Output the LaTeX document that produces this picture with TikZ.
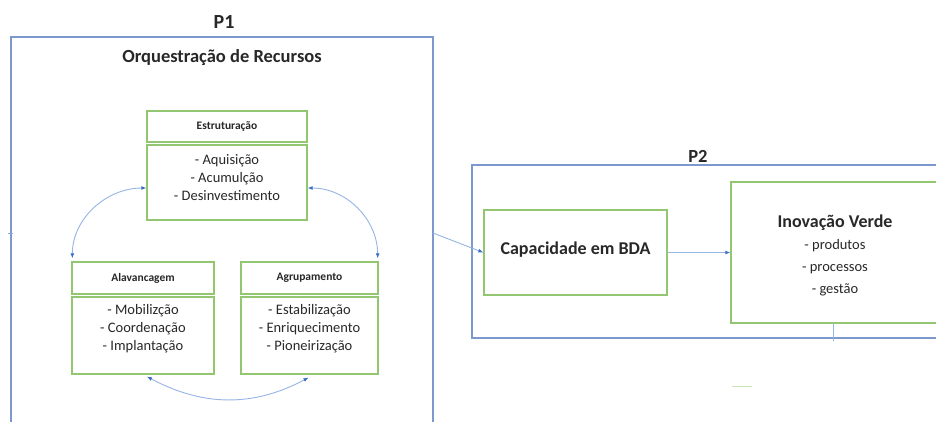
\documentclass[tikz,border=0pt]{standalone}
\usepackage{fontspec}
\setmainfont{Carlito}
\usetikzlibrary{arrows.meta}
\definecolor{pblue}{RGB}{125,152,205}
\definecolor{ggreen}{RGB}{146,198,112}
\definecolor{lineblue}{RGB}{150,180,230}
\definecolor{tipblue}{RGB}{60,110,200}
\definecolor{txt}{RGB}{40,40,40}
\tikzset{
  pframe/.style={draw=pblue, line width=1.3pt, rectangle, inner sep=0pt},
  gbox/.style={draw=ggreen, line width=1.3pt, rectangle, inner sep=0pt, fill=white},
  hdtext/.style={font=\bfseries\fontsize{11.5}{13}\selectfont, text=txt},
  bodytext/.style={font=\fontsize{14.5}{18}\selectfont, text=txt, align=center},
  conn/.style={draw=lineblue, line width=0.9pt, {Latex[length=5pt,width=4pt,color=tipblue]}-{Latex[length=5pt,width=4pt,color=tipblue]}},
  oneway/.style={draw=lineblue, line width=0.9pt, -{Latex[length=5pt,width=4pt,color=tipblue]}}
}
\begin{document}
\begin{tikzpicture}[x=1pt,y=-1pt]
\useasboundingbox (0,0) rectangle (936,421);
\clip (0,0) rectangle (936,421);
\fill[white] (0,0) rectangle (936,421);
% P1 frame
\node[pframe, minimum width=422pt, minimum height=422pt] (p1) at (222,248) {};
\node[font=\bfseries\fontsize{20}{24}\selectfont, text=txt] (p1t) at (224,22) {P1};
\node[font=\bfseries\fontsize{18.5}{21}\selectfont, text=txt] (orq) at (222,58) {Orquestração de Recursos};
% Estruturacao
\node[gbox, minimum width=160pt, minimum height=31pt] (esth) at (227,126.5) {};
\node[hdtext] (estt) at (esth.center) {Estruturação};
\node[gbox, minimum width=160pt, minimum height=75pt] (estb) at (227,182.5) {};
\node[bodytext] (estl) at (227,178) {- Aquisição\\- Acumulção\\- Desinvestimento};
% Alavancagem
\node[gbox, minimum width=142pt, minimum height=32pt] (alah) at (143,278) {};
\node[hdtext] (alat) at (alah.center) {Alavancagem};
\node[gbox, minimum width=142pt, minimum height=77pt] (alab) at (143,335.5) {};
\node[bodytext] (alal) at (143,329) {- Mobilizção\\- Coordenação\\- Implantação};
% Agrupamento
\node[gbox, minimum width=137pt, minimum height=32pt] (agrh) at (309.5,278) {};
\node[hdtext] (agrt) at (agrh.center) {Agrupamento};
\node[gbox, minimum width=137pt, minimum height=77pt] (agrb) at (309.5,335.5) {};
\node[bodytext] (agrl) at (309.5,329) {- Estabilização\\- Enriquecimento\\- Pioneirização};
% cycle arrows
\draw[conn] ([xshift=1pt,yshift=3pt]alah.north west) to[out=90,in=180] ([yshift=-5.5pt]estb.west);
\draw[conn] ([xshift=-1pt,yshift=3pt]agrh.north east) to[out=90,in=0] ([yshift=-5.5pt]estb.east);
\draw[conn] ([xshift=4pt,yshift=-2pt]alab.south) to[out=-28,in=-152] ([xshift=-1pt,yshift=-3pt]agrb.south);
% P2 frame
\node[pframe, minimum width=480pt, minimum height=173pt] (p2) at (712,251.5) {};
\node[font=\bfseries\fontsize{18.5}{21}\selectfont, text=txt] (p2t) at (698,156) {P2};
\node[gbox, minimum width=183pt, minimum height=85pt] (cap) at (575.5,252.5) {};
\node[font=\bfseries\fontsize{18}{21}\selectfont, text=txt] (capt) at (575.5,250) {Capacidade em BDA};
\node[gbox, minimum width=210pt, minimum height=141pt] (inov) at (836,252.5) {};
\node[font=\fontsize{14.5}{22}\selectfont, text=txt, align=center] (inovt) at (835,255)
  {{\bfseries\fontsize{18}{22}\selectfont Inovação Verde}\\- produtos\\- processos\\- gestão};
% connectors
\coordinate (p1out) at (433,233);
\draw[oneway] (p1out) -- (cap.west);
\draw[oneway] (cap.east) -- (inov.west);
\coordinate (tickend) at (833,341);
\draw[draw=lineblue, line width=1pt] (inov.south -| tickend) -- (tickend);
\coordinate (lm1) at (8,233);
\coordinate (lm2) at (13,233);
\draw[draw=tipblue!60, line width=1pt] (lm1) -- (lm2);
\coordinate (gm1) at (732,386);
\coordinate (gm2) at (752,386);
\draw[draw=ggreen!50, line width=1pt] (gm1) -- (gm2);
\end{tikzpicture}
\end{document}
